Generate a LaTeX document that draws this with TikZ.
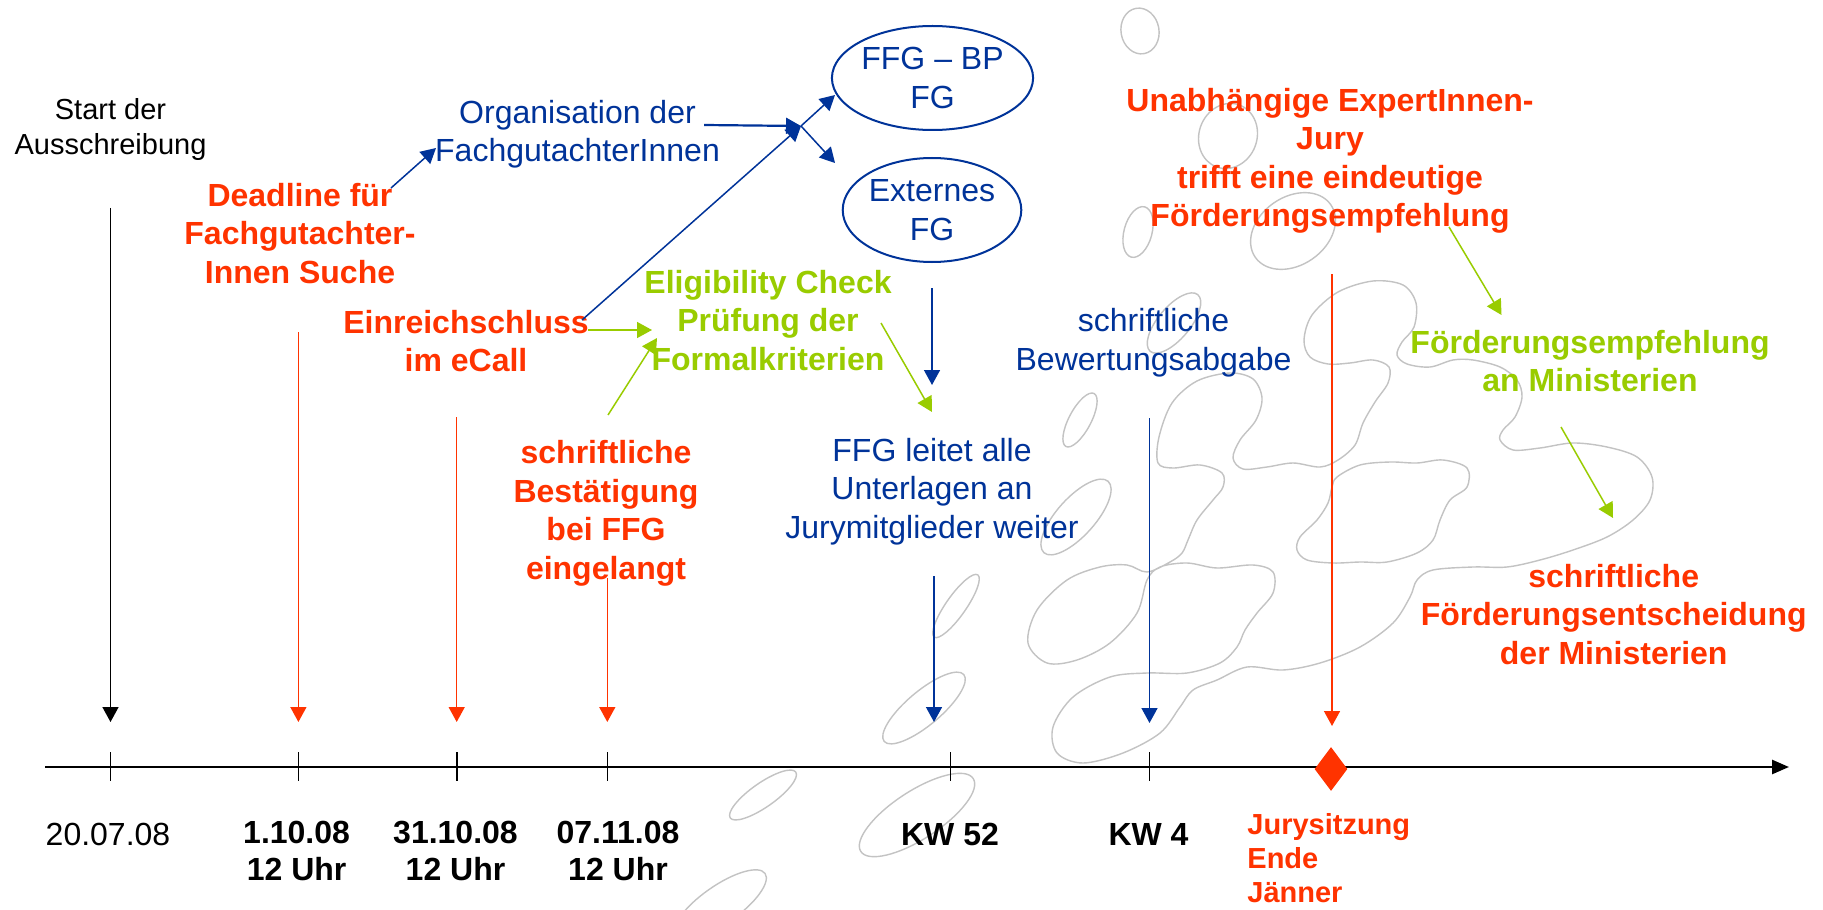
\documentclass[tikz,border=0pt]{standalone}
\usepackage{fontspec}
\setmainfont{Liberation Sans}
\usetikzlibrary{arrows.meta,shapes.geometric}
\definecolor{cred}{RGB}{255,51,0}
\definecolor{cblue}{RGB}{0,51,153}
\definecolor{cgreen}{RGB}{153,204,0}
\definecolor{cgray}{RGB}{195,195,195}
\begin{document}
\begin{tikzpicture}[x=0.5pt,y=-0.5pt,
  txt/.style={inner sep=0pt, align=center, anchor=base},
  big/.style={font=\fontsize{16}{19.2}\selectfont},
  bigb/.style={font=\fontsize{16}{19.2}\selectfont\bfseries},
  dateb/.style={font=\fontsize{16}{18.4}\selectfont\bfseries},
  conn/.style={line width=0.75pt, -{Triangle[width=8pt,length=7.5pt]}},
  blob/.style={draw=cgray, line width=0.7pt},
  tick/.style={line width=0.8pt}]
\fill[white] (0,0) rectangle (1823,909);
\useasboundingbox (0,0) rectangle (1823,909);

% background decoration
\begin{scope}
\clip (0,0) rectangle (1823,909);
\draw[blob, rotate around={100:(1140,31)}] (1140,31) ellipse [x radius=23, y radius=19];
\draw[blob, rotate around={70:(1228,136)}] (1228,136) ellipse [x radius=33, y radius=29];
\draw[blob, rotate around={75:(1138,232)}] (1138,232) ellipse [x radius=26, y radius=14];
\draw[blob, rotate around={35:(1293,231)}] (1293,231) ellipse [x radius=46, y radius=34];
\draw[blob, rotate around={62:(1080,420)}] (1080,420) ellipse [x radius=30, y radius=11];
\draw[blob, rotate around={48:(1076,517)}] (1076,517) ellipse [x radius=48, y radius=19];
\draw[blob, rotate around={50:(1174,323)}] (1174,323) ellipse [x radius=37, y radius=16];
\draw[blob, rotate around={40:(924,708)}] (924,708) ellipse [x radius=52, y radius=17];
\draw[blob, rotate around={55:(956,606)}] (956,606) ellipse [x radius=38, y radius=10];
\draw[blob, rotate around={35:(763,795)}] (763,795) ellipse [x radius=40, y radius=12];
\draw[blob, rotate around={33:(917,815)}] (917,815) ellipse [x radius=67, y radius=24];
\draw[blob, rotate around={35:(720,905)}] (720,905) ellipse [x radius=55, y radius=19];
\draw[blob] plot[smooth cycle, tension=0.55] coordinates {
 (1158,463) (1159,437) (1172,403) (1197,381) (1230,373) (1253,379) (1262,398)
 (1256,420) (1240,440) (1233,458) (1243,469) (1267,467) (1293,463) (1320,467)
 (1338,460) (1355,445) (1363,423) (1375,402) (1388,383) (1389,367) (1373,360)
 (1350,363) (1328,364) (1310,357) (1304,340) (1312,315) (1338,292) (1373,281)
 (1403,285) (1416,303) (1414,327) (1402,342) (1397,355) (1407,364) (1430,367)
 (1453,360) (1473,360) (1500,367) (1517,380) (1522,397) (1515,417) (1503,430)
 (1500,440) (1513,450) (1540,448) (1573,443) (1607,447) (1637,457) (1652,477)
 (1650,500) (1633,520) (1607,537) (1573,550) (1540,560) (1507,567) (1473,567)
 (1433,570) (1417,580) (1410,597) (1393,623) (1360,647) (1320,663) (1283,670)
 (1247,667) (1217,680) (1193,690) (1180,707) (1160,733) (1123,753) (1083,763)
 (1057,753) (1053,727) (1073,697) (1110,677) (1147,673) (1187,673) (1220,663)
 (1237,647) (1245,630) (1257,613) (1273,593) (1273,572) (1253,565) (1217,568)
 (1187,563) (1160,567) (1147,580) (1137,613) (1110,643) (1077,660) (1047,663)
 (1028,643) (1037,610) (1067,580) (1100,567) (1127,565) (1147,572) (1170,562)
 (1182,553) (1188,540) (1197,520) (1213,500) (1223,487) (1222,473) (1200,465)
 (1173,468)};
\draw[blob] plot[smooth cycle, tension=0.55] coordinates {
 (1332,487) (1337,477) (1360,465) (1390,462) (1417,463) (1443,460) (1467,468)
 (1467,487) (1450,500) (1440,520) (1433,540) (1417,553) (1387,562) (1360,562)
 (1333,563) (1307,560) (1297,550) (1300,537) (1317,520) (1328,503)};
\end{scope}

% axis
\coordinate (axs) at (45,767);
\coordinate (axe) at (1789,767);
\draw[line width=1.3pt, -{Triangle[width=7pt,length=8.5pt]}] (axs) -- (axe);
\foreach \t in {110.5,298.4,456.7,607.3,950.6,1149.5}
  \draw[tick] (\t,752) -- (\t,781);
\node[diamond, fill=cred, inner sep=0pt, minimum width=16.5pt, minimum height=22pt] (dia) at (1331,769) {};

% texts (anchor = baseline of the last line)
\node[txt, font=\fontsize{14.5}{17.5}\selectfont] (start) at (110.5,155) {Start der\\Ausschreibung};
\node[txt,bigb,text=cred] (deadline) at (300,283) {Deadline für\\Fachgutachter-\\Innen Suche};
\node[txt,big,text=cblue] (orga) at (577.5,162) {Organisation der\\FachgutachterInnen};
\node[txt,bigb,text=cred] (einreich) at (466,371.7) {Einreichschluss\\im eCall};
\node[txt,bigb,text=cgreen] (elig) at (768,370) {Eligibility Check\\Prüfung der\\Formalkriterien};
\node[txt,bigb,text=cred] (bestaet) at (606,579) {schriftliche\\Bestätigung\\bei FFG\\eingelangt};
\node[txt,big,text=cblue] (leitet) at (932,538.3) {FFG leitet alle\\Unterlagen an\\Jurymitglieder weiter};
\node[txt,big,text=cblue] (bewert) at (1153.5,370) {schriftliche\\Bewertungsabgabe};
\node[txt,bigb,text=cred] (jury) at (1330,226.7) {Unabhängige ExpertInnen-\\Jury\\trifft eine eindeutige\\Förderungsempfehlung};
\node[txt,bigb,text=cgreen] (empf) at (1590,391.7) {Förderungsempfehlung\\an Ministerien};
\node[txt,bigb,text=cred] (entsch) at (1613.7,664) {schriftliche\\Förderungsentscheidung\\der Ministerien};

\node[ellipse, draw=cblue, line width=1pt, minimum width=88pt, minimum height=52pt, inner sep=0pt, align=center, big, text=cblue] (ffgbp) at (932.5,78) {FFG – BP\\FG};
\node[ellipse, draw=cblue, line width=1pt, minimum width=88pt, minimum height=52pt, inner sep=0pt, align=center, big, text=cblue] (extern) at (932,210) {Externes\\FG};

% dates
\node[txt,big] (d1) at (108,845.7) {20.07.08};
\node[txt,dateb] (d2) at (296.6,880.7) {1.10.08\\12 Uhr};
\node[txt,dateb] (d3) at (455.5,880.7) {31.10.08\\12 Uhr};
\node[txt,dateb] (d4) at (618,880.7) {07.11.08\\12 Uhr};
\node[txt,dateb] (d5) at (950,845) {KW 52};
\node[txt,dateb] (d6) at (1148.5,845) {KW 4};
\node[inner sep=0pt, align=left, anchor=base west, font=\fontsize{14.5}{17}\selectfont\bfseries, text=cred] (jsitz) at (1247,902) {Jurysitzung\\Ende\\Jänner};

% coordinates for connector ends
\coordinate (a1s) at (110.5,208);  \coordinate (a1e) at (110.5,722);
\coordinate (a2s) at (298.4,332);  \coordinate (a2e) at (298.4,722);
\coordinate (a3s) at (456.7,417);  \coordinate (a3e) at (456.7,722);
\coordinate (a4s) at (607.3,578);  \coordinate (a4e) at (607.3,722);
\coordinate (a5s) at (934,576);    \coordinate (a5e) at (934,722);
\coordinate (a6s) at (1149.5,418); \coordinate (a6e) at (1149.5,723);
\coordinate (a7s) at (1332,274);   \coordinate (a7e) at (1332,726);
\coordinate (a8s) at (932,288);    \coordinate (a8e) at (932,385);
\coordinate (b1s) at (391,188);    \coordinate (b1e) at (436,148);
\coordinate (b2s) at (704,125);
\coordinate (b3s) at (582,320);
\coordinate (j) at (801,126);
\coordinate (jt) at (835,95);
\coordinate (jb) at (835,163);
\coordinate (g1s) at (588,330);    \coordinate (g1e) at (652,330);
\coordinate (g2s) at (608,415);    \coordinate (g2e) at (657,338);
\coordinate (g3s) at (881,323);    \coordinate (g3e) at (932,412);
\coordinate (g4s) at (1449,227);   \coordinate (g4e) at (1501.5,315);
\coordinate (g5s) at (1561,427);   \coordinate (g5e) at (1613,518);

% connectors
\draw[conn, black] (a1s) -- (a1e);
\draw[conn, cred] (a2s) -- (a2e);
\draw[conn, cred] (a3s) -- (a3e);
\draw[conn, cred] (a4s) -- (a4e);
\draw[conn, cblue] (a5s) -- (a5e);
\draw[conn, cblue] (a6s) -- (a6e);
\draw[conn, cred] (a7s) -- (a7e);
\draw[conn, cblue] (a8s) -- (a8e);
\draw[conn, cblue] (b1s) -- (b1e);
\draw[conn, cblue, line width=1.1pt] (b2s) -- (j);
\draw[conn, cblue] (b3s) -- (j);
\draw[conn, cblue] (j) -- (jt);
\draw[conn, cblue] (j) -- (jb);
\draw[conn, cgreen] (g1s) -- (g1e);
\draw[conn, cgreen] (g2s) -- (g2e);
\draw[conn, cgreen] (g3s) -- (g3e);
\draw[conn, cgreen] (g4s) -- (g4e);
\draw[conn, cgreen] (g5s) -- (g5e);
\end{tikzpicture}
\end{document}
